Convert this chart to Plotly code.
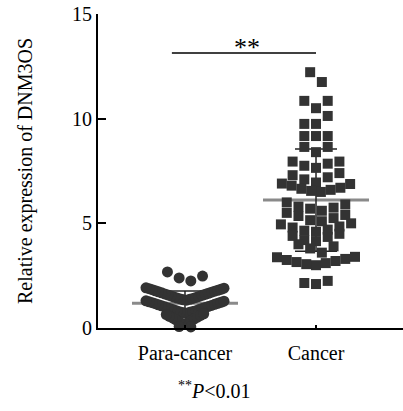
import numpy as np
import plotly.graph_objects as go

# ---------------- data ----------------
categories = ["Para-cancer", "Cancer"]

para_cancer = [
    2.68, 2.48, 2.39, 2.25,
    1.92, 1.90, 1.88, 1.85, 1.83, 1.80, 1.78, 1.76, 1.73, 1.71,
    1.68, 1.66, 1.63, 1.61, 1.58, 1.56, 1.53, 1.51, 1.48, 1.46,
    1.43, 1.41, 1.39, 1.37, 1.35, 1.33,
    1.30, 1.28, 1.25, 1.23, 1.21, 1.18, 1.16, 1.13, 1.11, 1.08,
    1.06, 1.03, 1.01, 0.98, 0.96, 0.93, 0.91, 0.88, 0.86, 0.83,
    0.81, 0.79, 0.77, 0.75, 0.73, 0.71,
    0.68, 0.64, 0.60, 0.56, 0.52, 0.48, 0.44, 0.40, 0.36, 0.32,
    0.27, 0.22, 0.17,
    0.07, 0.05,
]

cancer = [
    12.22, 11.75,
    10.85, 10.85, 10.5,
    10.13, 9.75, 9.75,
    9.17, 9.17, 9.17,
    8.65, 8.65, 8.4,
    7.95, 7.95, 7.85, 7.75, 7.65,
    7.4, 7.3, 7.2, 7.1, 6.95,
    6.9, 6.88, 6.8, 6.7, 6.65, 6.6, 6.55, 6.5,
    6.0, 5.9, 5.8, 5.75, 5.7, 5.6,
    5.5, 5.4, 5.35, 5.25, 5.15, 5.1,
    5.0, 4.95, 4.85, 4.8, 4.7, 4.65, 4.6,
    4.5, 4.4, 4.35, 4.2, 4.15,
    4.0, 3.9, 3.8, 3.6,
    3.4, 3.38, 3.3, 3.25, 3.2, 3.15, 3.1, 3.05, 3.0,
    2.25, 2.15, 2.1,
]

y_ticks = [0, 5, 10, 15]
y_title = "Relative expression of DNM3OS"
sig_label = "**"
footnote = "<sup>**</sup><i>P</i>&lt;0.01"

# ---------------- layout constants ----------------
W, H = 403, 411
M_L, M_R, M_T, M_B = 98, 0, 14, 83
PLOT_W = W - M_L - M_R
PLOT_H = H - M_T - M_B
Y_RANGE = [0, 15]
X_RANGE = [-0.664, 1.664]
PX_PER_Y = PLOT_H / (Y_RANGE[1] - Y_RANGE[0])
PX_PER_X = PLOT_W / (X_RANGE[1] - X_RANGE[0])

FONT = "Liberation Serif"
DOT = "#333333"


def swarm(values, row_h, step_px=11.7, max_span_px=78):
    """Prism-like row scatter: greedy rows top-down, lowest value in centre.
    Rows that fit use full spacing; crowded rows share the group's compressed spacing."""
    vals = sorted(values, reverse=True)
    rows, i = [], 0
    while i < len(vals):
        start = vals[i]
        row = []
        while i < len(vals) and vals[i] >= start - row_h - 1e-9:
            row.append(vals[i])
            i += 1
        rows.append(row)
    max_n = max(len(r) for r in rows)
    group_step = min(step_px, max_span_px / max(max_n - 1, 1))
    xs, ys = [], []
    for row in rows:
        row = sorted(row)
        n = len(row)
        step = step_px if (n - 1) * step_px <= max_span_px else group_step
        if n % 2:
            slots = [0] + [s * k for k in range(1, n // 2 + 1) for s in (-1, 1)]
        else:
            slots = [s * (k - 0.5) for k in range(1, n // 2 + 1) for s in (1, -1)]
        for v, sl in zip(row, slots):
            xs.append(sl * step / PX_PER_X)
            ys.append(v)
    return np.array(xs), np.array(ys)


fig = go.Figure()

groups = [
    (0, para_cancer, "circle", 11, 0.6),
    (1, cancer, "square", 10, 0.48),
]

# mean lines + SD bars (behind the dots)
for xi, vals, _, _, _ in groups:
    m = float(np.mean(vals))
    sd = float(np.std(vals, ddof=1))
    half = 53 / PX_PER_X
    cap = 21 / PX_PER_X
    fig.add_trace(go.Scatter(
        x=[xi - half, xi + half], y=[m, m], mode="lines",
        line=dict(color="#8a8a8a", width=3), hoverinfo="skip", showlegend=False,
        cliponaxis=False))
    fig.add_trace(go.Scatter(
        x=[xi, xi, None, xi - cap, xi + cap, None, xi - cap, xi + cap],
        y=[m - sd, m + sd, None, m + sd, m + sd, None, m - sd, m - sd],
        mode="lines", line=dict(color="#222222", width=1.5),
        hoverinfo="skip", showlegend=False, cliponaxis=False))

for xi, vals, sym, size, row_h in groups:
    dx, yy = swarm(vals, row_h)
    fig.add_trace(go.Scatter(
        x=xi + dx, y=yy, mode="markers",
        marker=dict(symbol=sym, size=size, color=DOT, line=dict(width=0)),
        showlegend=False, cliponaxis=False))

# significance bracket
sig_y = 13.14
fig.add_shape(type="line", x0=-0.1, x1=1.0, y0=sig_y, y1=sig_y,
              xref="x", yref="y", line=dict(color="black", width=1.5))
fig.add_annotation(x=0.473, y=13.38, xref="x", yref="y", text=sig_label,
                   showarrow=False, font=dict(family=FONT, size=26, color="black"),
                   xanchor="center", yanchor="middle")

# y title
fig.add_annotation(x=(25 - M_L) / PLOT_W, y=0.5, xref="paper", yref="paper",
                   text=y_title, textangle=-90, showarrow=False,
                   font=dict(family=FONT, size=20, color="black"),
                   xanchor="center", yanchor="middle")

# footnote
fig.add_annotation(x=(214 - M_L) / PLOT_W, y=(M_T + PLOT_H - 390) / PLOT_H,
                   xref="paper", yref="paper", text=footnote, showarrow=False,
                   font=dict(family=FONT, size=20, color="black"),
                   xanchor="center", yanchor="middle")

fig.update_layout(
    width=W, height=H,
    margin=dict(l=M_L, r=M_R, t=M_T, b=M_B, pad=0),
    paper_bgcolor="white", plot_bgcolor="white",
    font=dict(family=FONT, color="black"),
    xaxis=dict(range=X_RANGE, tickvals=[0, 1], ticktext=categories,
               ticks="inside", ticklen=3, tickwidth=2, tickcolor="black",
               showline=True, linewidth=2, linecolor="black",
               showgrid=False, zeroline=False, ticklabelstandoff=6,
               tickfont=dict(family=FONT, size=20, color="black")),
    yaxis=dict(range=Y_RANGE, tickvals=y_ticks,
               ticks="inside", ticklen=8, tickwidth=2, tickcolor="black",
               showline=True, linewidth=2, linecolor="black",
               showgrid=False, zeroline=False,
               tickfont=dict(family=FONT, size=20, color="black")),
)

fig.write_html("out.html", config={"displayModeBar": False},
               post_script="document.body.style.margin='0';")
